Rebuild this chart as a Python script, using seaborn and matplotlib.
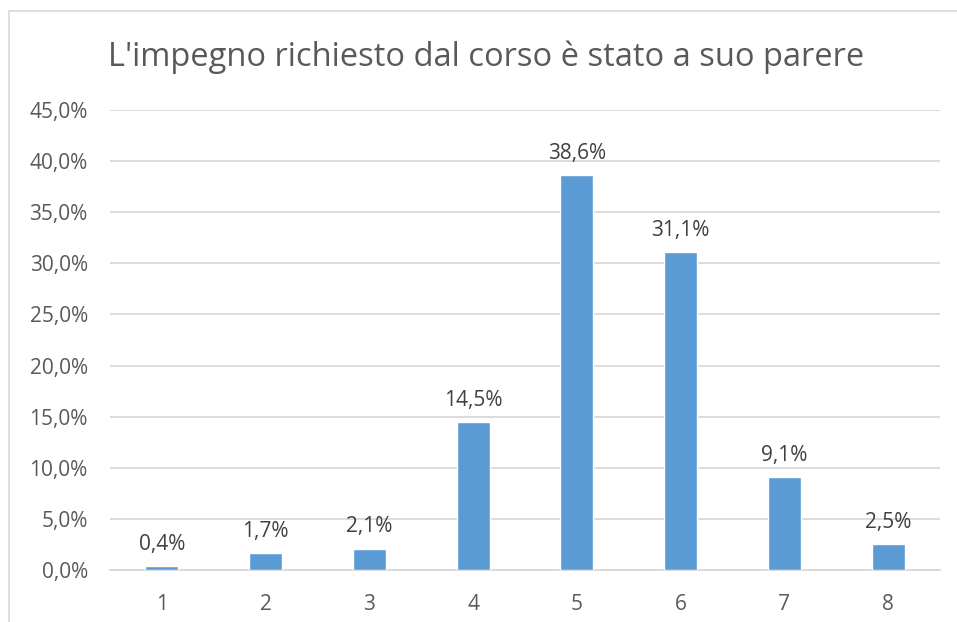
import matplotlib
matplotlib.use("Agg")
import matplotlib.pyplot as plt
import seaborn as sns
import pandas as pd
from matplotlib.patches import Rectangle

categories = ["1", "2", "3", "4", "5", "6", "7", "8"]
values = [0.4, 1.7, 2.1, 14.5, 38.6, 31.1, 9.1, 2.5]
title = "L'impegno richiesto dal corso è stato a suo parere"

sns.set_style("white")
plt.rcParams["font.family"] = ["Open Sans", "DejaVu Sans"]

df = pd.DataFrame({"cat": categories, "val": values})

fig = plt.figure(figsize=(9.57, 6.22), dpi=100)
ax = fig.add_axes([110/957, 1-570/622, 830/957, 460/622])

sns.barplot(data=df, x="cat", y="val", color="#5B9BD5", saturation=1,
            width=0.32, ax=ax, zorder=3)

ax.set_ylim(0, 45)
ax.set_xlim(-0.5, len(categories) - 0.5)
ticks = [i * 5 for i in range(10)]
ax.set_yticks(ticks)
ax.set_yticklabels([f"{t:.1f}%".replace(".", ",") for t in ticks])
ax.yaxis.grid(True, color="#D9D9D9", linewidth=1.3, zorder=0)
ax.set_axisbelow(True)
for s in ["top", "right", "left"]:
    ax.spines[s].set_visible(False)
ax.spines["bottom"].set_color("#D9D9D9")
ax.spines["bottom"].set_linewidth(1.3)
ax.tick_params(axis="both", length=0, labelsize=15, labelcolor="#595959")
ax.tick_params(axis="y", pad=16)
ax.tick_params(axis="x", pad=17)
ax.set_xlabel("")
ax.set_ylabel("")

for i, v in enumerate(values):
    ax.annotate(f"{v:.1f}%".replace(".", ","), (i, v), xytext=(0, 8),
                textcoords="offset points", ha="center", va="bottom",
                fontsize=15, color="#404040")

fig.text(486/957, 1-57/622, title, ha="center", va="center",
         fontsize=23.5, color="#595959")

fig.patches.append(Rectangle((9/957, -0.1), 1.2, 1 - 11/622 + 0.1,
                             transform=fig.transFigure, fill=False,
                             edgecolor="#D9D9D9", linewidth=1.2))

fig.savefig("out.png", dpi=100)
